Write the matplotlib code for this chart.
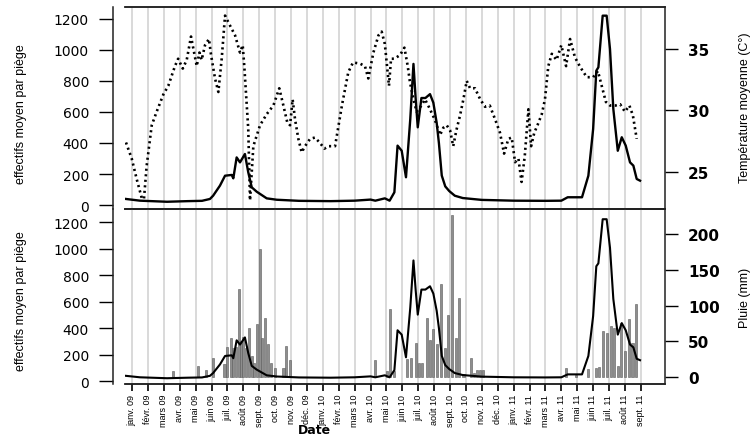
import matplotlib
matplotlib.use("Agg")
import matplotlib.pyplot as plt

plt.rcParams["font.family"] = ["DejaVu Sans"]

month_names = ["janv.", "févr.", "mars", "avr.", "mai", "juin",
               "juil.", "août", "sept.", "oct.", "nov.", "déc."]
years = ["09", "10", "11"]
tick_labels = [f"{month_names[i % 12]} {years[i // 12]}" for i in range(33)]

# time in months since janv. 09
eff_t = [-0.38, 0.5, 2.2, 3.5, 4.4, 4.9, 5.1, 5.53, 5.85, 6.27, 6.37, 6.58, 6.79, 7.1, 7.31,
         7.53, 7.84, 8.47, 9.1, 10.5, 12.5, 14.0, 15.0, 15.3, 15.9, 16.2, 16.5, 16.7, 16.96,
         17.23, 17.5, 17.7, 17.84, 17.97, 18.2, 18.45, 18.74, 18.95, 19.16, 19.3, 19.48,
         19.7, 19.95, 20.3, 20.8, 22.0, 24.0, 26.0, 27.0, 27.4, 28.3, 28.7, 29.0, 29.2,
         29.33, 29.6, 29.85, 30.06, 30.27, 30.55, 30.8, 31.05, 31.32, 31.53, 31.74, 31.95]
eff_v = [39, 28, 21, 25, 27, 39, 60, 125, 189, 194, 172, 307, 275, 329, 211,
         114, 86, 43, 34, 27, 25, 28, 35, 28, 43, 28, 82, 383, 350,
         179, 555, 910, 684, 501, 690, 690, 715, 660, 530, 400, 190,
         120, 90, 60, 45, 33, 28, 27, 28, 50, 50, 189, 490, 866,
         888, 1221, 1221, 1006, 619, 350, 437, 383, 275, 254, 168, 157]

temp_t = [-0.38, -0.02, 0.3, 0.61, 0.75, 0.92, 1.24, 1.55, 1.97, 2.28, 2.7, 2.9, 3.19, 3.44,
          3.71, 3.86, 4.07, 4.24, 4.38, 4.59, 4.84, 4.97, 5.22, 5.43, 5.64, 5.85, 6.16, 6.48,
          6.79, 6.96, 7.06, 7.31, 7.42, 7.63, 8.05, 8.47, 8.89, 9.26, 9.52, 9.77, 9.94, 10.1,
          10.25, 10.46, 10.67, 10.88, 11.2, 11.5, 11.8, 12.1, 12.35, 12.77, 13.2, 13.6, 13.9,
          14.34, 14.65, 14.86, 15.18, 15.5, 15.7, 15.9, 16.16, 16.29, 16.5, 16.86, 17.13,
          17.34, 17.48, 17.7, 17.9, 18.2, 18.43, 18.74, 19.06, 19.37, 19.58, 19.79, 20.0,
          20.2, 20.4, 20.63, 20.84, 21.05, 21.26, 21.57, 21.9, 22.2, 22.5, 22.83, 23.14,
          23.4, 23.67, 23.88, 24.09, 24.3, 24.5, 24.7, 24.93, 25.1, 25.3, 25.5, 25.77,
          25.97, 26.18, 26.4, 26.7, 27.0, 27.3, 27.55, 27.86, 28.2, 28.6, 29.0, 29.3,
          29.54, 29.8, 30.06, 30.4, 30.7, 31.0, 31.28, 31.5, 31.74]
temp_v = [27.4, 26.1, 24.4, 22.9, 22.8, 25.5, 28.8, 29.9, 31.3, 32.0, 33.6, 34.2, 33.4, 34.1,
          36.0, 35.0, 33.6, 34.7, 34.1, 35.3, 35.8, 34.5, 32.6, 31.5, 34.2, 37.7, 36.9, 36.1,
          34.7, 35.3, 33.6, 28.5, 22.7, 27.1, 28.8, 29.7, 30.4, 31.8, 30.4, 29.0, 28.8, 30.9,
          29.3, 27.7, 26.6, 27.1, 27.7, 27.8, 27.4, 26.9, 27.1, 27.1, 30.4, 33.1, 33.9,
          33.8, 33.6, 32.6, 34.7, 36.1, 36.4, 35.4, 32.0, 34.2, 34.2, 34.5, 35.1,
          33.6, 32.3, 30.9, 29.9, 30.4, 30.9, 30.1, 29.2, 28.0, 28.6, 28.8, 28.4,
          27.1, 28.4, 29.6, 30.9, 32.4, 31.8, 31.8, 30.9, 30.3, 30.4, 29.3, 28.2,
          26.5, 27.7, 27.8, 25.8, 26.1, 24.2, 26.3, 30.1, 27.1, 28.2, 28.8, 29.7,
          30.9, 33.6, 34.6, 34.1, 35.3, 33.6, 35.8, 34.3, 33.5, 32.7, 32.7, 33.2,
          32.0, 30.7, 30.4, 30.4, 30.5, 29.9, 30.4, 29.6, 27.7]

rain_t = [2.56, 4.17, 4.64, 5.08, 5.81, 5.99, 6.23, 6.37, 6.54, 6.71, 6.86, 7.0, 7.17, 7.38,
          7.55, 7.67, 7.84, 8.05, 8.18, 8.35, 8.53, 8.72, 9.01, 9.52, 9.7, 9.94,
          15.26, 16.02, 16.23, 16.48, 17.31, 17.53, 17.86, 18.05, 18.26, 18.53, 18.74, 18.95,
          19.16, 19.43, 19.69, 19.89, 20.11, 20.36, 20.58, 20.84, 21.3, 21.51, 21.7, 21.89,
          22.06, 27.3, 27.9, 28.7, 29.18, 29.39, 29.6, 29.85, 30.13, 30.33, 30.55, 30.75,
          31.0, 31.24, 31.47, 31.72]
rain_mm = [8, 16, 10, 27, 18, 42, 54, 41, 42, 123, 51, 56, 41, 69,
           30, 20, 74, 179, 55, 83, 46, 20, 13, 13, 44, 24,
           24, 9, 95, 8, 25, 27, 48, 20, 20, 82, 52, 67,
           46, 130, 41, 87, 226, 55, 110, 4, 27, 6, 10, 10,
           10, 13, 3, 11, 13, 14, 64, 62, 71, 69, 16, 75,
           37, 81, 48, 102]

narrow = "Liberation Sans"
px = 0.72

fig = plt.figure(figsize=(7.55, 4.39), dpi=100)
ax1 = fig.add_axes([0.1656, 0.5216, 0.7152, 0.4602])
ax2 = fig.add_axes([0.1656, 0.1230, 0.7152, 0.3986])
t1 = ax1.twinx()
t2 = ax2.twinx()

for m in range(33):
    ax1.axvline(m, color="#d0d0d0", lw=1.1, zorder=0)
    t2.axvline(m, color="#d0d0d0", lw=1.1, zorder=0)

ax1.plot(eff_t, eff_v, color="black", lw=1.7, zorder=3)
t1.plot(temp_t, temp_v, color="black", lw=1.9, linestyle=(0, (0.8, 1.3)))

t2.bar(rain_t, rain_mm, width=0.14, color="#8e8e8e", edgecolor="#5a5a5a", lw=0.4, zorder=2)
ax2.plot(eff_t, eff_v, color="black", lw=1.5, zorder=3)
ax2.set_zorder(t2.get_zorder() + 1)
ax2.patch.set_visible(False)

for ax in (ax1, ax2):
    ax.set_xlim(-0.44, 33.52)
ax1.set_ylim(-25.8, 1277)
t1.set_ylim(22.0, 38.4)
ax2.set_ylim(-22.6, 1298)
t2.set_ylim(-9.8, 235)

num_font = dict(fontsize=11, fontweight="bold")
for ax in (ax1, ax2):
    ax.set_yticks(range(0, 1201, 200))
    ax.set_yticklabels([str(v) for v in range(0, 1201, 200)], **num_font)
    ax.spines["left"].set_position(("outward", 12 * px))
    ax.spines["right"].set_visible(False)
    ax.tick_params(axis="y", length=14 * px, width=1.0, pad=10 * px)
t1.set_yticks([25, 30, 35])
t1.set_yticklabels(["25", "30", "35"], **num_font)
t2.set_yticks(range(0, 201, 50))
t2.set_yticklabels([str(v) for v in range(0, 201, 50)], **num_font)
for t in (t1, t2):
    t.spines["left"].set_visible(False)
    t.tick_params(axis="y", length=13 * px, width=1.0, pad=10 * px)

for ax in (ax1, ax2, t1, t2):
    for s in ax.spines.values():
        s.set_linewidth(1.1)
        s.set_color("#222222")

ax1.tick_params(axis="x", bottom=False, labelbottom=False)
t1.tick_params(axis="x", bottom=False, labelbottom=False)
ax2.set_xticks(range(33))
ax2.set_xticklabels(tick_labels, rotation=90, fontsize=6.5, family=narrow)
ax2.tick_params(axis="x", length=7 * px, width=1.2, pad=2)

fig.text(0.0278, 0.740, "effectifs moyen par piège", rotation=90, ha="center", va="center",
         fontsize=9, family=narrow)
fig.text(0.0278, 0.314, "effectifs moyen par piège", rotation=90, ha="center", va="center",
         fontsize=9, family=narrow)
fig.text(0.9868, 0.754, "Température moyenne (C°)", rotation=90, ha="center", va="center",
         fontsize=9, family=narrow)
fig.text(0.9868, 0.321, "Pluie (mm)", rotation=90, ha="center", va="center",
         fontsize=9, family=narrow)
fig.text(0.417, 0.004, "Date", ha="center", va="bottom", fontsize=9, fontweight="bold")

fig.savefig("out.png", dpi=100)
